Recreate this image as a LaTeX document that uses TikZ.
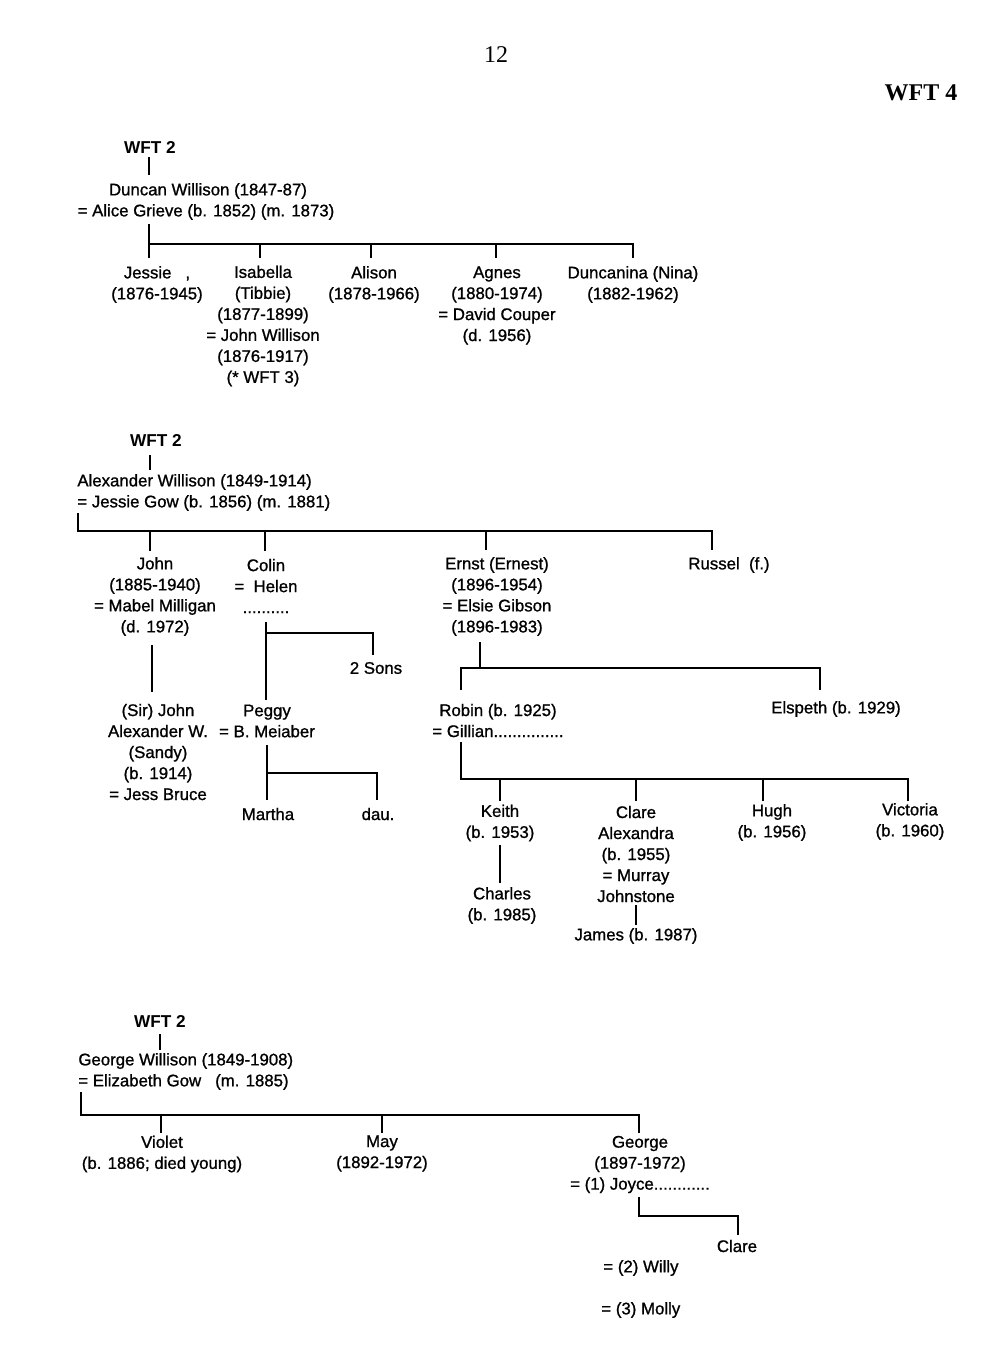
\documentclass[tikz,border=0pt]{standalone}
\usepackage{fontspec}
\setmainfont{Liberation Sans}
\newfontfamily\medsans[FakeBold=1.0]{Liberation Sans}
\newfontfamily\headserif{Liberation Serif}
\begin{document}
\begin{tikzpicture}[x=0.5pt,y=-0.5pt]
\tikzset{
  lbl/.style={font=\medsans\fontsize{8.4}{10.5}\selectfont, align=center, inner sep=0pt},
  lbw/.style={lbl, anchor=west},
  wft/.style={font=\fontsize{8.6}{10.5}\selectfont\bfseries, inner sep=0pt},
  tree/.style={line width=1.35pt, line join=miter},
  hdr/.style={font=\headserif\fontsize{12}{14}\selectfont, inner sep=0pt}
}
\useasboundingbox[fill=white] (0,0) rectangle (1000,1357);

% header
\node[hdr] (pagenum) at (496,55) {12};
\node[hdr, font=\headserif\fontsize{12}{14}\selectfont\bfseries] (wftfour) at (921,93) {WFT 4};

% ================= Section 1 =================
\node[wft] (wa) at (150,147) {WFT 2};
\node[lbl] (duncan) at (208,191) {Duncan Willison (1847-87)};
\node[lbl] (alice) at (206,212) {= Alice Grieve (b. 1852) (m. 1873)};
\node[lbl] (jessie) at (157,284.5) {Jessie\hspace{7pt},\\(1876-1945)};
\node[lbl] (isabella) at (263,326) {Isabella\\(Tibbie)\\(1877-1899)\\= John Willison\\(1876-1917)\\(* WFT 3)};
\node[lbl] (alison) at (374,284.5) {Alison\\(1878-1966)};
\node[lbl] (agnes) at (497,305.5) {Agnes\\(1880-1974)\\= David Couper\\(d. 1956)};
\node[lbl] (nina) at (633,284.5) {Duncanina (Nina)\\(1882-1962)};

\coordinate (a0) at (149,157); \coordinate (a1) at (149,175);
\coordinate (a2) at (149,224); \coordinate (a3) at (149,244);
\coordinate (a4) at (633,244); \coordinate (a5) at (633,258);
\coordinate (a6) at (149,258);
\coordinate (a7) at (260,244); \coordinate (a8) at (260,258);
\coordinate (a9) at (371,244); \coordinate (a10) at (371,258);
\coordinate (a11) at (496,244); \coordinate (a12) at (496,258);
\draw[tree] (a0) -- (a1);
\draw[tree] (a6) -- (a2);
\draw[tree] (a3) -- (a4) -- (a5);
\draw[tree] (a7) -- (a8);
\draw[tree] (a9) -- (a10);
\draw[tree] (a11) -- (a12);

% ================= Section 2 =================
\node[wft] (wb) at (156,440) {WFT 2};
\node[lbw] (alex) at (77,482) {Alexander Willison (1849-1914)};
\node[lbw] (jgow) at (77,503) {= Jessie Gow (b. 1856) (m. 1881)};
\node[lbl] (john) at (155,596.5) {John\\(1885-1940)\\= Mabel Milligan\\(d. 1972)};
\node[lbl] (sirjohn) at (158,752) {(Sir) John\\Alexander W.\\(Sandy)\\(b. 1914)\\= Jess Bruce};
\node[lbl] (colin) at (266,586) {Colin\\=\ \ Helen\\..........};
\node[lbl] (twosons) at (376,668) {2 Sons};
\node[lbl] (peggy) at (267,721) {Peggy\\= B. Meiaber};
\node[lbl] (martha) at (268,814) {Martha};
\node[lbl] (dau) at (378,814) {dau.};
\node[lbl] (ernst) at (497,596.5) {Ernst (Ernest)\\(1896-1954)\\= Elsie Gibson\\(1896-1983)};
\node[lbl] (russel) at (729,565) {Russel\ \ (f.)};
\node[lbl] (robin) at (498,720.5) {Robin (b. 1925)\\= Gillian...............};
\node[lbl] (elspeth) at (836,709) {Elspeth (b. 1929)};
\node[lbl] (keith) at (500,823) {Keith\\(b. 1953)};
\node[lbl] (charles) at (502,905.5) {Charles\\(b. 1985)};
\node[lbl] (clare) at (636,854) {Clare\\Alexandra\\(b. 1955)\\= Murray\\Johnstone};
\node[lbl] (james) at (636,936) {James (b. 1987)};
\node[lbl] (hugh) at (772,822.5) {Hugh\\(b. 1956)};
\node[lbl] (victoria) at (910,821.5) {Victoria\\(b. 1960)};

\coordinate (b0) at (150,455); \coordinate (b1) at (150,470);
\coordinate (b2) at (78,513); \coordinate (b3) at (78,531);
\coordinate (b4) at (712,531); \coordinate (b5) at (712,550);
\coordinate (b6) at (150,531); \coordinate (b7) at (150,551);
\coordinate (b8) at (265,531); \coordinate (b9) at (265,551);
\coordinate (b10) at (486,531); \coordinate (b11) at (486,550);
\draw[tree] (b0) -- (b1);
\draw[tree] (b2) -- (b3) -- (b4) -- (b5);
\draw[tree] (b6) -- (b7);
\draw[tree] (b8) -- (b9);
\draw[tree] (b10) -- (b11);
% John -> Sir John
\coordinate (c0) at (152,645); \coordinate (c1) at (152,692);
\draw[tree] (c0) -- (c1);
% Colin
\coordinate (d0) at (266,622); \coordinate (d1) at (266,700);
\coordinate (d2) at (266,633); \coordinate (d3) at (373,633); \coordinate (d4) at (373,655);
\draw[tree] (d0) -- (d1);
\draw[tree] (d2) -- (d3) -- (d4);
% Peggy
\coordinate (e0) at (267,745); \coordinate (e1) at (267,800);
\coordinate (e2) at (267,773); \coordinate (e3) at (377,773); \coordinate (e4) at (377,800);
\draw[tree] (e0) -- (e1);
\draw[tree] (e2) -- (e3) -- (e4);
% Ernst
\coordinate (f0) at (480,642); \coordinate (f1) at (480,668);
\coordinate (f2) at (461,690); \coordinate (f3) at (461,668);
\coordinate (f4) at (820,668); \coordinate (f5) at (820,690);
\draw[tree] (f0) -- (f1);
\draw[tree] (f2) -- (f3) -- (f4) -- (f5);
% Robin
\coordinate (g0) at (461,742); \coordinate (g1) at (461,779);
\coordinate (g2) at (908,779); \coordinate (g3) at (908,801);
\coordinate (g4) at (500,779); \coordinate (g5) at (500,801);
\coordinate (g6) at (636,779); \coordinate (g7) at (636,801);
\coordinate (g8) at (763,779); \coordinate (g9) at (763,801);
\draw[tree] (g0) -- (g1) -- (g2) -- (g3);
\draw[tree] (g4) -- (g5);
\draw[tree] (g6) -- (g7);
\draw[tree] (g8) -- (g9);
% Keith -> Charles, Clare -> James
\coordinate (h0) at (500,845); \coordinate (h1) at (500,883);
\coordinate (h2) at (636,905); \coordinate (h3) at (636,925);
\draw[tree] (h0) -- (h1);
\draw[tree] (h2) -- (h3);

% ================= Section 3 =================
\node[wft] (wc) at (160,1021) {WFT 2};
\node[lbw] (georgep) at (78,1061) {George Willison (1849-1908)};
\node[lbw] (egow) at (78,1082) {= Elizabeth Gow\ \ \ (m. 1885)};
\node[lbl] (violet) at (162,1154) {Violet\\(b. 1886; died young)};
\node[lbl] (may) at (382,1153.5) {May\\(1892-1972)};
\node[lbl] (georgec) at (640,1164.5) {George\\(1897-1972)\\= (1) Joyce............};
\node[lbl] (clarej) at (737,1246) {Clare};
\node[lbw] (willy) at (603,1268) {= (2) Willy};
\node[lbw] (molly) at (601,1310) {= (3) Molly};

\coordinate (k0) at (160,1034); \coordinate (k1) at (160,1050);
\coordinate (k2) at (81,1092); \coordinate (k3) at (81,1115);
\coordinate (k4) at (639,1115); \coordinate (k5) at (639,1133);
\coordinate (k6) at (161,1115); \coordinate (k7) at (161,1133);
\coordinate (k8) at (382,1115); \coordinate (k9) at (382,1133);
\draw[tree] (k0) -- (k1);
\draw[tree] (k2) -- (k3) -- (k4) -- (k5);
\draw[tree] (k6) -- (k7);
\draw[tree] (k8) -- (k9);
\coordinate (m0) at (639,1197); \coordinate (m1) at (639,1216);
\coordinate (m2) at (738,1216); \coordinate (m3) at (738,1235);
\draw[tree] (m0) -- (m1) -- (m2) -- (m3);
\end{tikzpicture}
\end{document}
